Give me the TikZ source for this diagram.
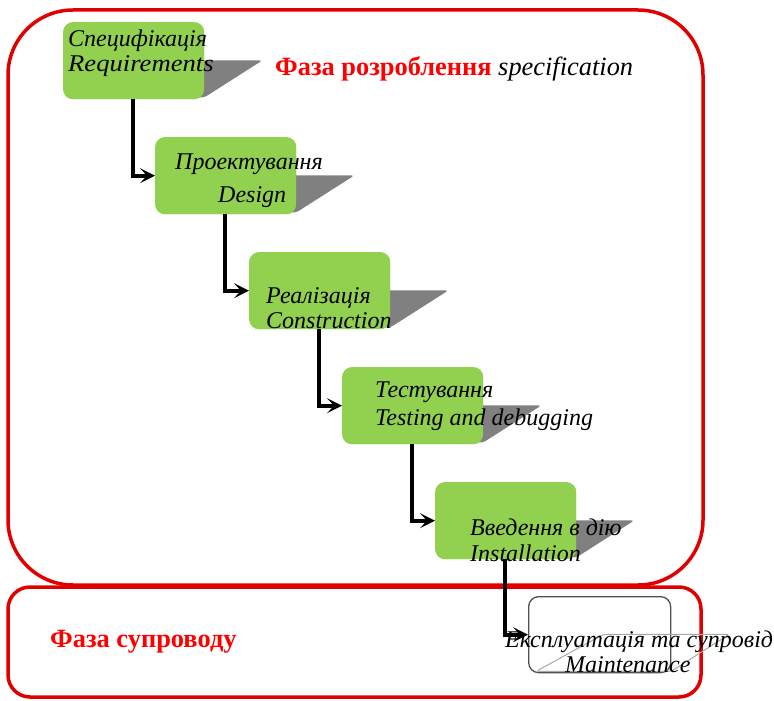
\documentclass[tikz,border=0pt]{standalone}
\usepackage{fontspec}
\setmainfont{Liberation Serif}
\usetikzlibrary{arrows.meta}
\definecolor{boxgreen}{HTML}{92D050}
\definecolor{framered}{HTML}{E10000}
\definecolor{labelred}{HTML}{FF0000}
\definecolor{shadowgray}{HTML}{808080}
\definecolor{outlinegray}{HTML}{505050}
\definecolor{ghostgray}{HTML}{A8A8A8}
% slanted drop shadow behind a stage box
\newcommand\stageshadow[2]{%
  \path[#2, rounded corners=3pt]
    ([shift={(-135,-2)}]#1.south east) -- ([shift={(-68,-39)}]#1.south east)
    -- ([shift={(58,-39)}]#1.south east) -- ([shift={(0,-2)}]#1.south east) -- cycle;}
\begin{document}
\begin{tikzpicture}[x=1pt,y=-1pt,
  phase/.style={draw=framered, line width=3.5pt, inner sep=0pt},
  stage/.style={fill=boxgreen, rounded corners=10pt, minimum width=141pt,
    minimum height=77pt, inner sep=0pt, anchor=north west},
  lastbox/.style={draw=outlinegray, line width=1.3pt, rounded corners=10pt,
    minimum width=142pt, minimum height=76pt, inner sep=0pt, anchor=north west},
  lbl/.style={font=\itshape\fontsize{24}{28}\selectfont, inner sep=0pt, anchor=base west},
  phaselbl/.style={font=\fontsize{26.4}{30}\selectfont, inner sep=0pt, anchor=base west},
  flow/.style={line width=4pt, -{Stealth[length=15pt,width=15pt,inset=7pt]}}
]
\useasboundingbox (0,0) rectangle (774,701);

% phase frames
\node[phase, rounded corners=65pt, minimum width=695pt, minimum height=575pt] (dev) at (355.5,297.5) {};
\node[phase, rounded corners=22pt, minimum width=693pt, minimum height=110pt] (sup) at (354.5,642) {};

% stage boxes (positions fixed first, so shadows can refer to them)
\node[stage] (s1) at (63,22) {};
\node[stage] (s2) at (155,137) {};
\node[stage] (s3) at (249,252) {};
\node[stage] (s4) at (342,367) {};
\node[stage] (s5) at (435,482) {};
\node[lastbox] (s6) at (528,596) {};

% shadows
\stageshadow{s1}{fill=shadowgray}
\stageshadow{s2}{fill=shadowgray}
\stageshadow{s3}{fill=shadowgray}
\stageshadow{s4}{fill=shadowgray}
\stageshadow{s5}{fill=shadowgray}
\stageshadow{s6}{draw=ghostgray, line width=1pt}

% green boxes painted again over their shadows
\node[stage] at (63,22) {};
\node[stage] at (155,137) {};
\node[stage] at (249,252) {};
\node[stage] at (342,367) {};
\node[stage] at (435,482) {};

% connectors
\draw[flow] ([xshift=-1pt]s1.south) |- (s2.west);
\draw[flow] ([xshift=-1pt]s2.south) |- (s3.west);
\draw[flow] ([xshift=-1pt]s3.south) |- (s4.west);
\draw[flow] ([xshift=-1pt]s4.south) |- (s5.west);
\draw[flow] ([xshift=-1pt]s5.south) |- (s6.west);

% stage labels
\node[lbl] (t1a) at (68,47) {Специфікація};
\node[lbl] (t1b) at (68,72) {\scalebox{1.11}[1]{Requirements}};
\node[lbl] (t2a) at (175,169) {Проектування};
\node[lbl] (t2b) at (218,202) {Design};
\node[lbl] (t3a) at (266,303) {Реалізація};
\node[lbl] (t3b) at (266,328) {Construction};
\node[lbl] (t4a) at (375,397) {Тестування};
\node[lbl] (t4b) at (375,425) {Testing and debugging};
\node[lbl] (t5a) at (470,535) {Введення в дію};
\node[lbl] (t5b) at (470,561) {Installation};
\node[lbl] (t6a) at (505,647) {Експлуатація та супровід};
\node[lbl] (t6b) at (565,672) {Maintenance};

% phase labels
\node[phaselbl] (devlbl) at (275,75) {\textcolor{labelred}{\bfseries Фаза розроблення} \itshape specification};
\node[phaselbl] (suplbl) at (50,647) {\textcolor{labelred}{\bfseries Фаза супроводу}};
\end{tikzpicture}
\end{document}
